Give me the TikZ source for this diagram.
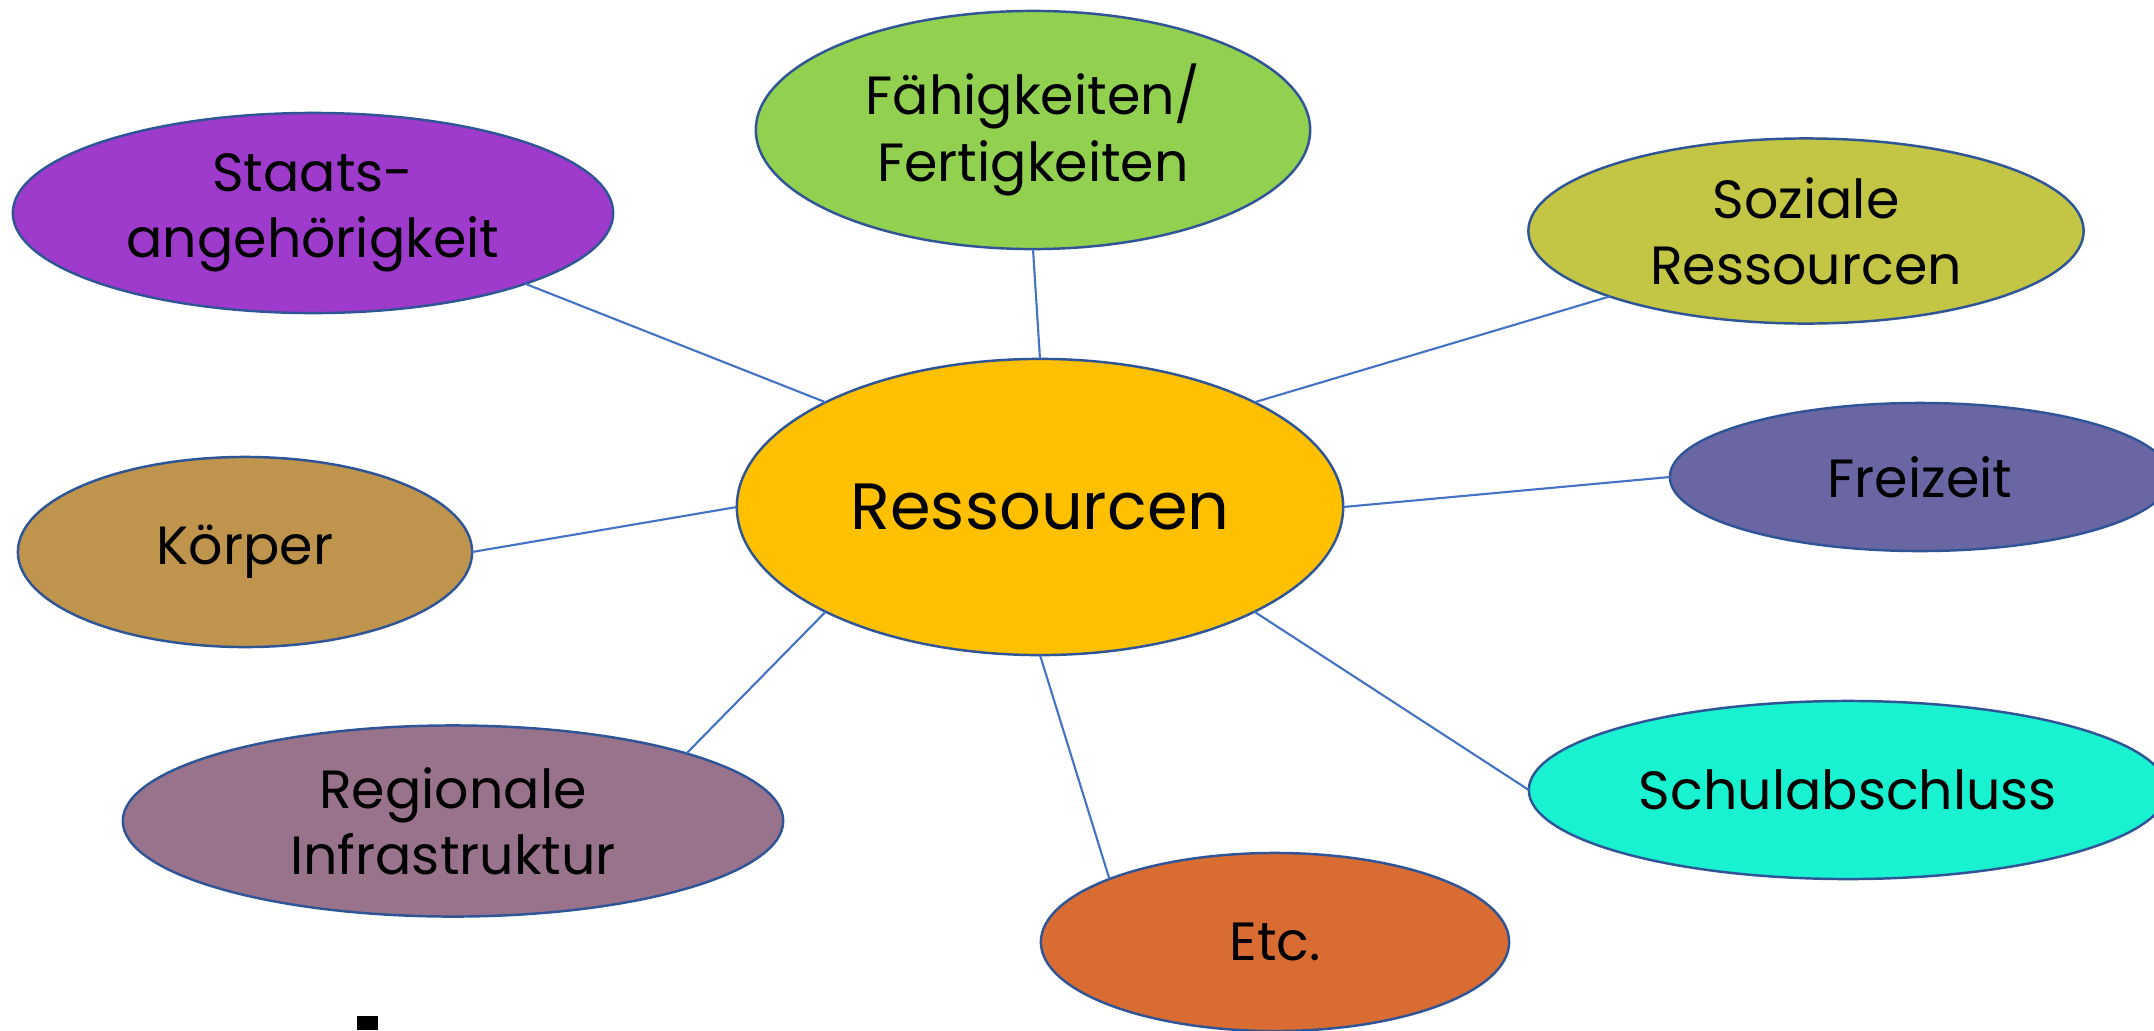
\documentclass[tikz,border=0pt]{standalone}
\usepackage{fontspec}
\setmainfont{Poppins}
\usetikzlibrary{shapes.geometric}
\definecolor{randblau}{HTML}{2F5597}
\definecolor{linkblau}{HTML}{4472C4}
\definecolor{resgelb}{HTML}{FFC000}
\definecolor{faehgruen}{HTML}{92D050}
\definecolor{staatlila}{HTML}{9E3ACC}
\definecolor{sozoliv}{HTML}{C3C544}
\definecolor{freiviolett}{HTML}{6A65A3}
\definecolor{koerperbraun}{HTML}{BF944C}
\definecolor{regionmauve}{HTML}{98738B}
\definecolor{schultuerkis}{HTML}{19F2D0}
\definecolor{etcorange}{HTML}{D86C33}
\tikzset{blob/.style = {ellipse, draw = randblau, line width = 0.7pt, inner sep = 0, outer sep = 0, align = center, font = \fontsize{15.3}{18.9}\selectfont}}
\tikzset{link/.style = {draw = linkblau, line width = 0.6pt}}

\begin{document}
\begin{tikzpicture}[x = 0.01cm, y = -0.01cm]
    \useasboundingbox (0, 0) rectangle (2154, 1030);
    \clip (0, 0) rectangle (2154, 1030);

    \node [blob, fill=resgelb, minimum width=6.06cm, minimum height=2.96cm, font=\fontsize{18.6}{22}\selectfont] (res) at (1040, 507) {Ressourcen};

    \node [blob, fill=faehgruen, minimum width=5.54cm, minimum height=2.38cm] (faeh) at (1033, 130) {Fähigkeiten/\\Fertigkeiten};
    \node [blob, fill=staatlila, minimum width=6.0cm, minimum height=2.0cm] (staat) at (313, 213) {Staats-\\angehörigkeit};
    \node [blob, fill=sozoliv, minimum width=5.55cm, minimum height=1.85cm] (sozial) at (1806, 231) {Soziale\\Ressourcen};
    \node [blob, fill=freiviolett, minimum width=5.0cm, minimum height=1.48cm] (frei) at (1920, 477) {Freizeit};
    \node [blob, fill=koerperbraun, minimum width=4.54cm, minimum height=1.9cm] (koerper) at (245, 552) {Körper};
    \node [blob, fill=regionmauve, minimum width=6.6cm, minimum height=1.91cm] (region) at (453, 821) {Regionale\\Infrastruktur};
    \node [blob, fill=schultuerkis, minimum width=6.38cm, minimum height=1.78cm] (schul) at (1848, 790) {Schulabschluss};
    \node [blob, fill=etcorange, minimum width=4.68cm, minimum height=1.78cm] (etc) at (1275, 942) {Etc.};

    \draw [link] (staat.south east) -- (res.north west);
    \draw [link] (faeh.south) -- (res.north);
    \draw [link] (sozial.south west) -- (res.north east);
    \draw [link] (frei.west) -- (res.east);
    \draw [link] (koerper.east) -- (res.west);
    \draw [link] (region.north east) -- (res.south west);
    \draw [link] (etc.north west) -- (res.south);
    \draw [link] (schul.west) -- (res.south east);

    \fill (357, 1016) rectangle (378, 1030);
  \end{tikzpicture}
\end{document}
